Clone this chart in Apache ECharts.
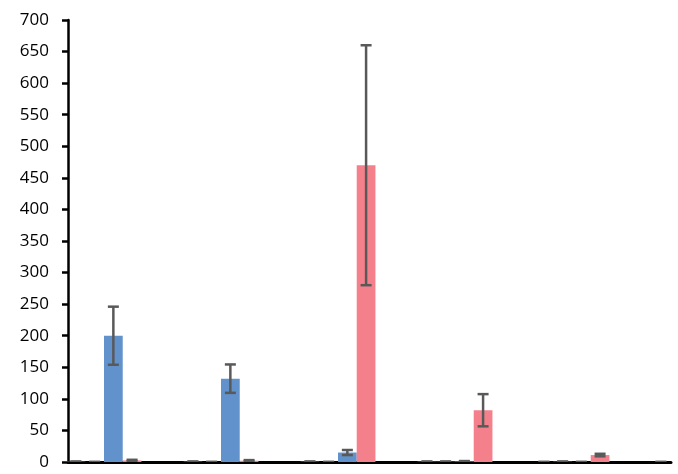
<!DOCTYPE html>
<html>
<head>
<meta charset="utf-8">
<script src="https://cdn.jsdelivr.net/npm/echarts@6/dist/echarts.min.js"></script>
<style>
html,body{margin:0;padding:0;background:#fff;}
#chart{width:678px;height:474px;}
</style>
</head>
<body>
<div id="chart"></div>
<script>
// Category index of each cluster (no visible category labels)
const groups = [0, 1, 2, 3, 4, 5];
// Series values (4 bars per cluster) and their error amounts
const s1 = [0.5, 0.5, 0.5, 0.5, 0, 0];
const s1Err = [0.3, 0.3, 0.3, 0.3, 0, 0];
const s2 = [0, 0, 0, 0.5, 0.5, 0];
const s2Err = [0, 0, 0, 0.3, 0.3, 0];
const s3 = [200, 132, 15, 1, 0, 0];
const s3Err = [46, 22.5, 4, 0.5, 0, 0];
const s4 = [2.5, 2, 470, 82, 11, 0];
const s4Err = [1, 1, 190, 25.5, 2, 0];
// Y-axis ticks
const yMin = 0, yMax = 700, yStep = 50;

const seriesVals = [s1, s2, s3, s4];
const seriesErrs = [s1Err, s2Err, s3Err, s4Err];
const colors = ['#A5A5A5', '#ED7D31', '#6192CB', '#F4808B'];
const barFrac = 0.16;   // bar width as fraction of cluster pitch
const nSeries = 4;

const chart = echarts.init(document.getElementById('chart'), null, {renderer: 'canvas'});

const series = [];
seriesVals.forEach((vals, si) => {
  series.push({
    type: 'bar',
    data: groups.map((g, i) => [g, vals[i]]),
    barWidth: (barFrac * 100) + '%',
    barGap: '0%',
    itemStyle: {color: colors[si]},
    z: 2,
    clip: true,
    silent: true
  });
});
seriesVals.forEach((vals, si) => {
  const errs = seriesErrs[si];
  series.push({
    type: 'custom',
    z: 5,
    clip: true,
    silent: true,
    data: groups.map((g, i) => [g, vals[i] - errs[i], vals[i] + errs[i]]),
    renderItem: function (params, api) {
      const pitch = api.size([1, 0])[0];
      const off = (si - (nSeries - 1) / 2) * pitch * barFrac;
      const lo = api.coord([api.value(0), api.value(1)]);
      const hi = api.coord([api.value(0), api.value(2)]);
      const x = lo[0] + off;
      const hw = 5.5;
      const st = {stroke: '#595959', lineWidth: 2.5};
      return {
        type: 'group',
        children: [
          {type: 'line', shape: {x1: x, y1: lo[1], x2: x, y2: hi[1]}, style: st},
          {type: 'line', shape: {x1: x - hw, y1: lo[1], x2: x + hw, y2: lo[1]}, style: st},
          {type: 'line', shape: {x1: x - hw, y1: hi[1], x2: x + hw, y2: hi[1]}, style: st}
        ]
      };
    }
  });
});

// Cluster pitch 117px; first cluster centred 36px right of the y-axis
const gridLeft = 68, gridRight = 7;
const plotW = 678 - gridLeft - gridRight;
const xMin = -36 / 117;
const xMax = xMin + plotW / 117;

chart.setOption({
  animation: false,
  backgroundColor: '#ffffff',
  grid: {left: gridLeft, right: gridRight, top: 20, bottom: 12, containLabel: false},
  xAxis: {
    type: 'value',
    min: xMin,
    max: xMax,
    axisLine: {show: true, onZero: false, lineStyle: {color: '#000000', width: 3}},
    axisTick: {show: false},
    axisLabel: {show: false},
    splitLine: {show: false}
  },
  yAxis: {
    type: 'value',
    min: yMin,
    max: yMax,
    interval: yStep,
    axisLine: {show: true, onZero: false, lineStyle: {color: '#000000', width: 2.5}},
    axisTick: {show: true, inside: false, length: 6, lineStyle: {color: '#000000', width: 2.5}},
    axisLabel: {
      color: '#000000',
      fontFamily: 'Open Sans',
      fontSize: 17,
      margin: 19
    },
    splitLine: {show: false}
  },
  series: series
});
</script>
</body>
</html>
